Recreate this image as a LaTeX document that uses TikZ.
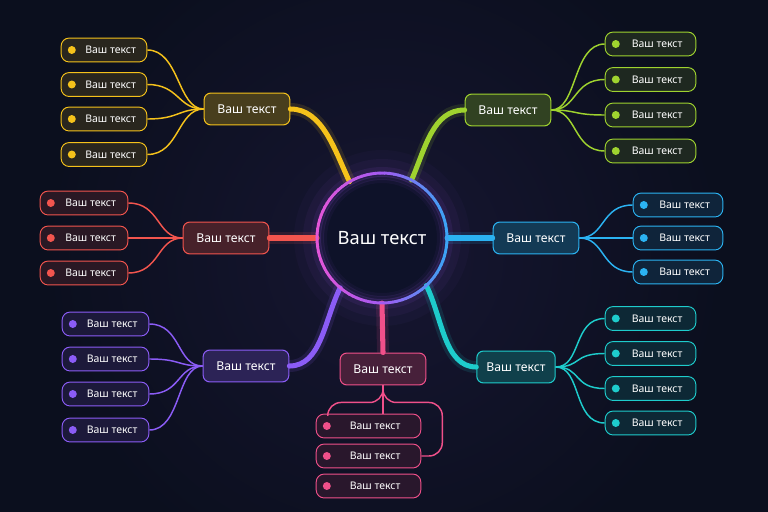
\documentclass[tikz,border=0pt]{standalone}
\usepackage{fontspec}
\setmainfont{Noto Sans}
\usetikzlibrary{calc}

\definecolor{bgc}{HTML}{0B0F1E}
\definecolor{ctrfill}{HTML}{0E1229}
\definecolor{yel}{HTML}{F5C21B}
\definecolor{grn}{HTML}{9FD32F}
\definecolor{rd}{HTML}{F2554E}
\definecolor{blu}{HTML}{2BB3F2}
\definecolor{tea}{HTML}{1ECCCC}
\definecolor{pur}{HTML}{8B5CF6}
\definecolor{pnk}{HTML}{F0508A}
\definecolor{cmag}{HTML}{E356D8}
\definecolor{vio}{HTML}{A25AF2}
\definecolor{cblu}{HTML}{3AA5F5}

\tikzset{
  mainbox/.style={draw=#1, fill=#1!26!bgc, rounded corners=5pt, line width=0.8pt,
    minimum width=64.5pt, minimum height=24pt, text=white,
    font=\fontsize{9.2}{10}\selectfont},
  leaf/.style={draw=#1, fill=#1!13!bgc, rounded corners=6pt, line width=0.7pt,
    minimum width=66pt, minimum height=18pt, text=white,
    font=\fontsize{7.9}{9}\selectfont, execute at begin node=\hspace*{10pt},
    path picture={\fill[#1] ([xshift=8pt]path picture bounding box.west) circle (3pt);}},
  twig/.style={draw=#1, line width=1.1pt},
  limb/.style={preaction={draw=#1, line width=9pt, opacity=0.13},
    draw=#1, line width=3.8pt, line cap=round},
}

\begin{document}
\begin{tikzpicture}[x=0.75bp,y=0.75bp,yscale=-1]
\useasboundingbox (0,0) rectangle (768,512);
\begin{scope}
  \clip (0,0) rectangle (768,512);
  \fill[bgc] (-5,-5) rectangle (773,517);
  \shade[inner color=bgc!70!pur!30!bgc, outer color=bgc] (384,256) circle (340);
\end{scope}

% glow round the centre
\foreach \r/\o in {88/0.03,79/0.05,71/0.09} {
  \fill[vio, opacity=\o] (382,238) circle (\r);
}

% centre
\node[circle, fill=ctrfill, minimum size=97.5pt, inner sep=0pt, text=white,
  font=\fontsize{13.8}{16}\selectfont] (ctr) at (382,238) {Ваш текст};
\foreach \r/\o in {63/0.18,60/0.10,57/0.05} {
  \draw[vio, opacity=\o, line width=3pt] (382,238) circle (\r);
}

% main nodes
\node[mainbox=yel] (ym) at (247,109) {Ваш текст};
\node[mainbox=grn] (gm) at (508,110) {Ваш текст};
\node[mainbox=rd]  (rm) at (226,238) {Ваш текст};
\node[mainbox=blu] (bm) at (536,238) {Ваш текст};
\node[mainbox=pur] (vm) at (246,366) {Ваш текст};
\node[mainbox=pnk] (km) at (383,369) {Ваш текст};
\node[mainbox=tea, minimum width=59pt] (tm) at (516,367) {Ваш текст};

% leaves
\foreach \y [count=\i] in {50,84.5,119,154.5}
  \node[leaf=yel, minimum width=64.5pt] (y\i) at (104,\y) {Ваш текст};
\foreach \y [count=\i] in {44,79.5,115,151}
  \node[leaf=grn, minimum width=68.25pt] (g\i) at (650.5,\y) {Ваш текст};
\foreach \y [count=\i] in {203,238,273}
  \node[leaf=rd] (r\i) at (84,\y) {Ваш текст};
\foreach \y [count=\i] in {205,238,272}
  \node[leaf=blu, minimum width=67.5pt] (b\i) at (678,\y) {Ваш текст};
\foreach \y [count=\i] in {324,359,394,430}
  \node[leaf=pur, minimum width=65.25pt] (v\i) at (105.5,\y) {Ваш текст};
\foreach \y [count=\i] in {426,456,486}
  \node[leaf=pnk, minimum width=78.75pt] (k\i) at (368.5,\y) {Ваш текст};
\foreach \y [count=\i] in {318.5,353.5,388.5,423}
  \node[leaf=tea, minimum width=68.25pt] (t\i) at (650.5,\y) {Ваш текст};

% limbs to the centre
\path[limb=yel] (ym.east) .. controls +(32,0) and +(-15,-32) .. (ctr.120);
\path[limb=grn] (gm.west) .. controls +(-32,0) and +(14,-32) .. (ctr.63);
\path[limb=rd] (rm.east) -- (ctr.west);
\path[limb=blu] (bm.west) -- (ctr.east);
\path[limb=pur] (vm.east) .. controls +(32,0) and +(-16,32) .. (ctr.230);
\path[limb=tea] (tm.west) .. controls +(-32,0) and +(16,32) .. (ctr.313);
\path[limb=pnk] (km.north) -- (ctr.south);

% twigs to the leaves
\foreach \i in {1,...,4} {
  \path[twig=yel] (y\i.east) .. controls +(32,0) and +(-26,0) .. (ym.west);
  \path[twig=grn] (gm.east) .. controls +(26,0) and +(-32,0) .. (g\i.west);
  \path[twig=pur] (v\i.east) .. controls +(32,0) and +(-26,0) .. (vm.west);
  \path[twig=tea] (tm.east) .. controls +(26,0) and +(-32,0) .. (t\i.west);
}
\foreach \i in {1,...,3} {
  \path[twig=rd] (r\i.east) .. controls +(32,0) and +(-26,0) .. (rm.west);
  \path[twig=blu] (bm.east) .. controls +(26,0) and +(-32,0) .. (b\i.west);
}
\path[twig=pnk, rounded corners=10pt] (km.south) -- ++(0,17) -| ($(k1.north west)+(12,0)$);
\path[twig=pnk] (km.south) -- (km.south |- k1.north);
\path[twig=pnk, rounded corners=10pt] (km.south) -- ++(0,17) -| ($(k2.east)+(21,0)$) -- (k2.east);

% ring of the centre
\foreach \a in {0,4,...,356} {
  \pgfmathtruncatemacro\t{50+50*cos(\a+2)}
  \ifnum\t<50 \pgfmathtruncatemacro\u{2*\t}\def\rc{vio!\u!cmag}%
  \else \pgfmathtruncatemacro\u{2*\t-100}\def\rc{cblu!\u!vio}\fi
  \draw[draw=\rc, line width=2.2pt] (ctr.center) ++(\a:65) arc[start angle=\a, end angle=\a+4.6, radius=65];
}
\end{tikzpicture}
\end{document}
